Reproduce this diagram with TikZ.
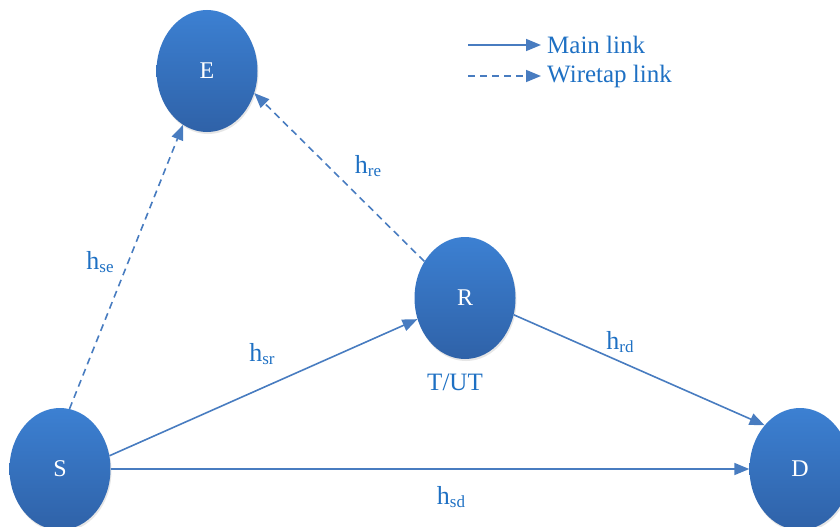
\documentclass[tikz,border=0pt]{standalone}
\usepackage{fontspec}
\setmainfont{Liberation Serif}
\usetikzlibrary{shapes.geometric,arrows.meta,shadows}
\definecolor{nodetop}{RGB}{60,128,210}
\definecolor{nodebot}{RGB}{47,98,168}
\definecolor{linkcol}{RGB}{72,124,192}
\definecolor{txtcol}{RGB}{30,112,195}
\tikzset{
  station/.style={ellipse, minimum width=101pt, minimum height=122pt, inner sep=0pt,
    top color=nodetop, bottom color=nodebot, draw=none,
    drop shadow={opacity=0.2, shadow xshift=1pt, shadow yshift=-2pt},
    text=white, font=\fontsize{24}{26}\selectfont},
  mainlink/.style={draw=linkcol, line width=1.6pt, -{Triangle[length=15pt,width=12pt]}},
  taplink/.style={mainlink, dash pattern=on 7pt off 5pt},
  lbl/.style={text=txtcol, font=\fontsize{25}{28}\selectfont, inner sep=0pt},
}
\newcommand{\hsub}[1]{{\fontsize{26}{28}\selectfont h}\raisebox{-0.12em}{\fontsize{17}{17}\selectfont #1}}
\begin{document}
\begin{tikzpicture}[x=1pt,y=-1pt]
\useasboundingbox (0,0) rectangle (840,527);
\node[station] (E) at (207,71) {E};
\node[station] (R) at (465,298) {R};
\node[station] (S) at (60,469) {S};
\node[station] (D) at (800,469) {D};

\draw[taplink] (S.81) -- (E.246);
\draw[taplink] (R.138) -- (E.335);
\draw[mainlink] (S.15) -- (R.204);
\draw[mainlink] (R.341) -- (D.129);
\draw[mainlink] (S.east) -- (D.west);

\node[lbl] (lse) at (100,262) {\hsub{se}};
\node[lbl] (lre) at (368,166) {\hsub{re}};
\node[lbl] (lsr) at (262,354) {\hsub{sr}};
\node[lbl] (lrd) at (620,342) {\hsub{rd}};
\node[lbl] (lsd) at (451,497) {\hsub{sd}};
\node[lbl] (tut) at (455,382) {T/UT};

\coordinate (m1) at (468,45);
\coordinate (m2) at (541,45);
\coordinate (w1) at (468,76);
\coordinate (w2) at (541,76);
\draw[mainlink] (m1) -- (m2);
\draw[taplink] (w1) -- (w2);
\node[lbl, anchor=west] (lm) at (547,45) {Main link};
\node[lbl, anchor=west] (lw) at (547,76) {Wiretap link};
\end{tikzpicture}
\end{document}
